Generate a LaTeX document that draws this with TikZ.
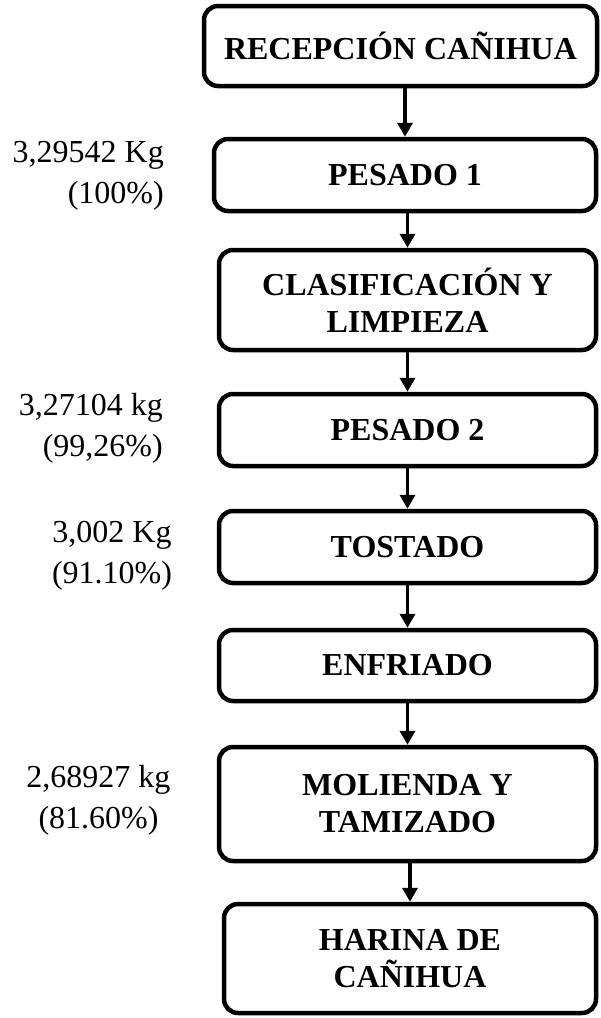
\documentclass[tikz,border=0pt]{standalone}
\usepackage{fontspec}
\setmainfont{Liberation Serif}
\usetikzlibrary{arrows.meta}
\newcommand{\boxfont}{\fontsize{32}{37}\selectfont\bfseries}
\newcommand{\labfont}{\fontsize{32}{41}\selectfont}
\begin{document}
\begin{tikzpicture}[x=1pt,y=-1pt,
  procbox/.style={draw, line width=4.5pt, rounded corners=14pt, align=center, font=\boxfont, inner sep=0pt},
  lab/.style={font=\labfont, inner sep=0pt},
  arr/.style={line width=3.5pt, -{Triangle[width=15pt,length=14pt]}}]
\useasboundingbox (0,0) rectangle (601,1018);
\node[procbox, minimum width=393pt, minimum height=80pt] (b1) at (400.5,46) {RECEPCIÓN CAÑIHUA};
\node[procbox, minimum width=382pt, minimum height=72pt] (b2) at (405,175) {PESADO 1};
\node[procbox, minimum width=377pt, minimum height=100pt] (b3) at (407.5,300) {CLASIFICACIÓN Y\\LIMPIEZA};
\node[procbox, minimum width=377pt, minimum height=72pt] (b4) at (407.5,430) {PESADO 2};
\node[procbox, minimum width=377pt, minimum height=72pt] (b5) at (407.5,547) {TOSTADO};
\node[procbox, minimum width=377pt, minimum height=71pt] (b6) at (407.5,665.5) {ENFRIADO};
\node[procbox, minimum width=377pt, minimum height=114pt] (b7) at (407.5,804) {MOLIENDA Y\\TAMIZADO};
\node[procbox, minimum width=372pt, minimum height=109pt] (b8) at (410,958.5) {HARINA DE\\CAÑIHUA};
\node[lab, align=right, anchor=east] (l1) at (164,175.4) {3,29542 Kg\\(100\%)};
\node[lab, align=right, anchor=east] (l2) at (163,428.4) {3,27104 kg\\(99,26\%)};
\node[lab, align=center] (l3) at (112,555.4) {3,002 Kg\\(91.10\%)};
\node[lab, align=center] (l4) at (98.5,800.4) {2,68927 kg\\(81.60\%)};
\draw[arr] (b1.south -| b2.north) -- (b2.north);
\draw[arr] (b2.south -| b3.north) -- (b3.north);
\draw[arr] (b3.south -| b4.north) -- (b4.north);
\draw[arr] (b4.south -| b5.north) -- (b5.north);
\draw[arr] (b5.south -| b6.north) -- (b6.north);
\draw[arr] (b6.south -| b7.north) -- (b7.north);
\draw[arr] (b7.south -| b8.north) -- (b8.north);
\end{tikzpicture}
\end{document}
